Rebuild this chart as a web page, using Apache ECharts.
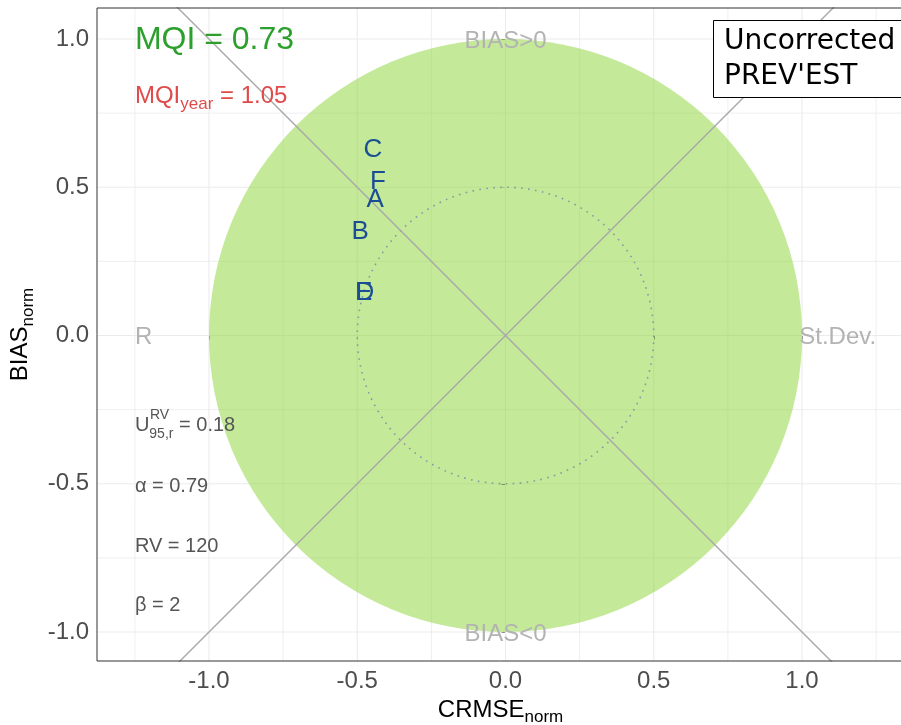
<!DOCTYPE html>
<html>
<head>
<meta charset="utf-8">
<script src="https://cdn.jsdelivr.net/npm/echarts@6/dist/echarts.min.js"></script>
<style>html,body{margin:0;padding:0;background:#fff;}#c{width:901px;height:725px;}</style>
</head>
<body>
<div id="c"></div>
<script>
// ---- data ----
const pointLabels = ['A', 'B', 'C', 'D', 'E', 'F'];
const pointX = [-0.44, -0.49, -0.447, -0.474, -0.478, -0.43];
const pointY = [0.464, 0.355, 0.632, 0.15, 0.152, 0.525];

const majorTicks = [-1.0, -0.5, 0.0, 0.5, 1.0];
const minorTicks = [-1.25, -0.75, -0.25, 0.25, 0.75, 1.25];
const tickLabels = ['-1.0', '-0.5', '0.0', '0.5', '1.0'];

const targetRadius = [1.0];
const innerRadius = [0.5];
const diagX = [-1.6, 1.6];

const mqiValue = [0.73];
const mqiYearValue = [1.05];
const statNames = ['U', 'α', 'RV', 'β'];
const statValues = ['0.18', '0.79', '120', '2'];
const statY = [-0.3, -0.5, -0.7, -0.9];
const annoX = -1.25;
const legendLines = ['Uncorrected', "PREV'EST"];

// ---- chart ----
const FONT = '"Liberation Sans", Arial, sans-serif';
const chart = echarts.init(document.getElementById('c'), null, {renderer: 'canvas'});

const X_MIN = -1.3778, X_MAX = 1.344, Y_MIN = -1.0978, Y_MAX = 1.1046;
function inRangeX(v) { return v >= X_MIN && v <= X_MAX; }
function inRangeY(v) { return v >= Y_MIN && v <= Y_MAX; }

function vLines(values, width) {
  return {
    type: 'custom', z: 1, silent: true,
    data: values.filter(inRangeX).map(v => [v]),
    renderItem: function (params, api) {
      const x = api.coord([api.value(0), 0])[0];
      const cs = params.coordSys;
      return {type: 'line', shape: {x1: x, y1: cs.y, x2: x, y2: cs.y + cs.height},
              style: {stroke: '#ebebeb', lineWidth: width}};
    }
  };
}
function hLines(values, width) {
  return {
    type: 'custom', z: 1, silent: true,
    data: values.filter(inRangeY).map(v => [0, v]),
    renderItem: function (params, api) {
      const y = api.coord([0, api.value(1)])[1];
      const cs = params.coordSys;
      return {type: 'line', shape: {x1: cs.x, y1: y, x2: cs.x + cs.width, y2: y},
              style: {stroke: '#ebebeb', lineWidth: width}};
    }
  };
}
function circle(radii, style, z) {
  return {
    type: 'custom', z: z, silent: true,
    data: radii.map(r => [0, 0, r]),
    renderItem: function (params, api) {
      const c = api.coord([api.value(0), api.value(1)]);
      const r = api.size([api.value(2), api.value(2)])[0];
      return {type: 'circle', shape: {cx: c[0], cy: c[1], r: r}, style: style};
    }
  };
}
function textSeries(items, z) {
  return {
    type: 'scatter', z: z, symbolSize: 0, silent: true,
    itemStyle: {opacity: 1},
    data: items
  };
}

const greyLab = {color: '#b3b3b3', fontSize: 24, fontFamily: FONT, opacity: 1, offset: [0, 2]};
const statColor = '#555555';
const statRich = {
  a: {fontSize: 20, color: statColor, fontFamily: FONT, verticalAlign: 'top', lineHeight: 22},
  b: {fontSize: 14, color: statColor, fontFamily: FONT, verticalAlign: 'bottom', lineHeight: 25}
};
function statLabel(text) {
  return {show: true, position: 'right', distance: 0, opacity: 1, offset: [0, 3],
    formatter: text, color: statColor, fontSize: 20, fontFamily: FONT};
}

const annotations = [
  {value: [annoX, 1.0], label: {show: true, position: 'right', distance: 0, opacity: 1, offset: [0, 1],
    formatter: 'MQI = ' + mqiValue[0].toFixed(2), color: '#2ca02c', fontSize: 32, fontFamily: FONT}},
  {value: [annoX, 0.815], label: {show: true, position: 'right', distance: 0, opacity: 1, offset: [0, 5],
    formatter: '{a|MQI}{b|year}{a| = ' + mqiYearValue[0].toFixed(2) + '}',
    rich: {a: {fontSize: 24, color: '#e04a4a', fontFamily: FONT, verticalAlign: 'top', lineHeight: 26},
           b: {fontSize: 17, color: '#e04a4a', fontFamily: FONT, verticalAlign: 'bottom', lineHeight: 28}}}},
  {value: [0, 1.0], label: Object.assign({show: true, position: 'inside', formatter: 'BIAS>0'}, greyLab)},
  {value: [0, -1.0], label: Object.assign({show: true, position: 'inside', formatter: 'BIAS<0'}, greyLab)},
  {value: [annoX, 0], label: Object.assign({show: true, position: 'right', distance: 0, formatter: 'R'}, greyLab)},
  {value: [1.25, 0], label: Object.assign({show: true, position: 'left', distance: 0, formatter: 'St.Dev.'}, greyLab)},
  {value: [annoX, statY[0]], label: {show: true, position: 'right', distance: 0, opacity: 1, offset: [0, 4],
    formatter: '{a|' + statNames[0] + '}{b|95,r}{a| = ' + statValues[0] + '}', rich: statRich}},
  {value: [annoX, statY[0]], label: Object.assign(statLabel('RV'), {offset: [15, -9], fontSize: 14})},
  {value: [annoX, statY[1]], label: statLabel(statNames[1] + ' = ' + statValues[1])},
  {value: [annoX, statY[2]], label: statLabel(statNames[2] + ' = ' + statValues[2])},
  {value: [annoX, statY[3]], label: statLabel(statNames[3] + ' = ' + statValues[3])}
];

const points = pointLabels.map((n, i) => ({
  name: n, value: [pointX[i], pointY[i]],
  label: {show: true, position: 'inside', formatter: n, color: '#1a4d93', fontSize: 26, fontFamily: FONT, opacity: 1, offset: [0, 2]}
}));

const axisLabelStyle = {color: '#4d4d4d', fontSize: 24, fontFamily: FONT, margin: 8};
const nameRich = {
  a: {fontSize: 24, color: '#000', fontFamily: FONT, verticalAlign: 'top', lineHeight: 26},
  b: {fontSize: 17, color: '#000', fontFamily: FONT, verticalAlign: 'bottom', lineHeight: 28}
};

const option = {
  animation: false,
  backgroundColor: '#ffffff',
  title: {
    text: legendLines.join('\n'),
    left: 713, top: 20,
    padding: [4, 30, 4, 11],
    borderColor: '#000', borderWidth: 1,
    backgroundColor: '#ffffff',
    textStyle: {fontFamily: '"DejaVu Sans", sans-serif', fontSize: 28, fontWeight: 'normal', color: '#000', lineHeight: 35}
  },
  grid: {left: 97, top: 8, right: -3, bottom: 64, show: true, borderColor: '#333333', borderWidth: 1,
         backgroundColor: 'transparent', z: 10, containLabel: false, outerBoundsMode: 'none'},
  xAxis: {
    type: 'value', min: X_MIN, max: X_MAX,
    axisLine: {show: false}, splitLine: {show: false},
    axisTick: {show: true, length: 4, lineStyle: {color: '#333333'}, customValues: majorTicks},
    axisLabel: Object.assign({customValues: majorTicks, formatter: function (v) {
      const i = majorTicks.indexOf(v); return i >= 0 ? tickLabels[i] : '';
    }}, axisLabelStyle),
    name: '{a|CRMSE}{b|norm}', nameLocation: 'middle', nameGap: 33,
    nameTextStyle: {rich: nameRich}
  },
  yAxis: {
    type: 'value', min: Y_MIN, max: Y_MAX,
    axisLine: {show: false}, splitLine: {show: false},
    axisTick: {show: true, length: 4, lineStyle: {color: '#333333'}, customValues: majorTicks},
    axisLabel: Object.assign({customValues: majorTicks, formatter: function (v) {
      const i = majorTicks.indexOf(v); return i >= 0 ? tickLabels[i] : '';
    }}, axisLabelStyle),
    name: '{a|BIAS}{b|norm}', nameLocation: 'middle', nameGap: 56,
    nameTextStyle: {rich: nameRich}
  },
  series: [
    vLines(minorTicks, 0.8), hLines(minorTicks, 0.8),
    vLines(majorTicks, 1.1), hLines(majorTicks, 1.1),
    circle(targetRadius, {fill: 'rgba(135,211,51,0.5)'}, 2),
    circle(innerRadius, {fill: 'none', stroke: '#8c97a6', lineWidth: 1.6, lineDash: [1.6, 5.4]}, 3),
    {type: 'line', z: 4, silent: true, showSymbol: false, clip: true,
     data: diagX.map(v => [v, v]), lineStyle: {color: '#a8a8a8', width: 1.4}},
    {type: 'line', z: 4, silent: true, showSymbol: false, clip: true,
     data: diagX.map(v => [v, -v]), lineStyle: {color: '#a8a8a8', width: 1.4}},
    textSeries(annotations, 5),
    textSeries(points, 6)
  ]
};
chart.setOption(option);
</script>
</body>
</html>
